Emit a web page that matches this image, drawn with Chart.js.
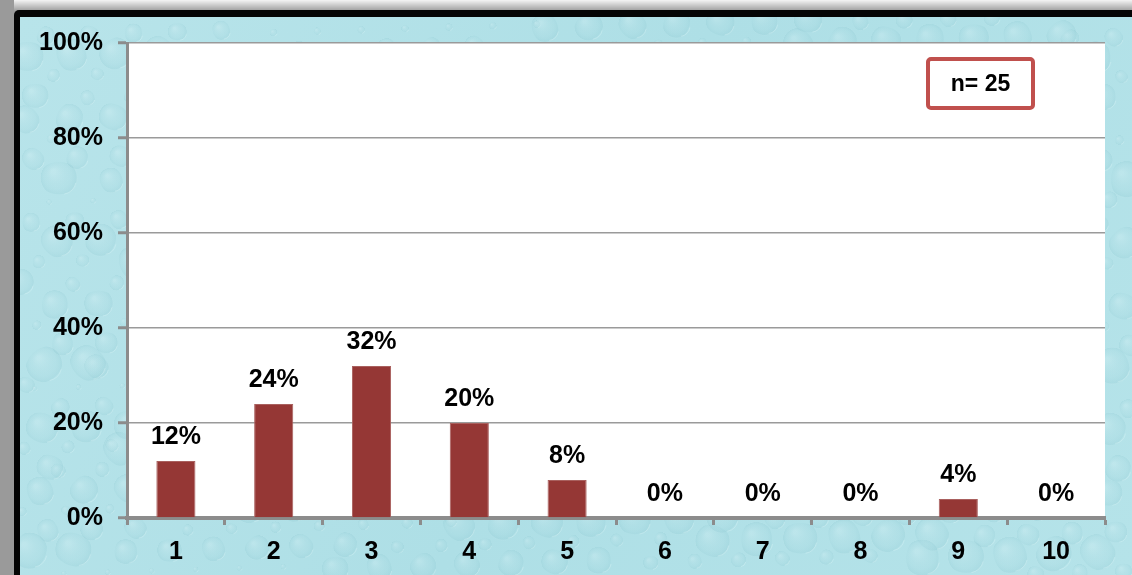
<!DOCTYPE html>
<html>
<head>
<meta charset="utf-8">
<title>Distribution</title>
<script src="https://cdn.jsdelivr.net/npm/chart.js@4/dist/chart.umd.min.js"></script>
<style>
  html, body { margin: 0; padding: 0; background: #ffffff; }
  #wrap { width: 1132px; height: 575px; }
</style>
</head>
<body>
<div id="wrap"><canvas id="c" width="1132" height="575"></canvas></div>
<script>
// Categories and share of responses (percent)
const categories = ['1', '2', '3', '4', '5', '6', '7', '8', '9', '10'];
const shares = [12, 24, 32, 20, 8, 0, 0, 0, 4, 0];
const yTicks = [0, 20, 40, 60, 80, 100];
const sampleLabel = 'n= 25';

const FONT = '"Liberation Sans", Arial, Helvetica, sans-serif';

// Frame, border and water-drop backdrop behind the plot
const backdrop = {
  id: 'backdrop',
  beforeDraw(chart) {
    const { ctx, width, height, chartArea: a } = chart;
    ctx.save();
    // grey surround
    const g = ctx.createLinearGradient(0, 0, 0, 11);
    g.addColorStop(0, '#f4f4f4');
    g.addColorStop(1, '#9c9c9c');
    ctx.fillStyle = '#9a9a9a';
    ctx.fillRect(0, 0, width, height);
    ctx.fillStyle = g;
    ctx.fillRect(14, 0, width - 14, 11);
    // black frame
    ctx.fillStyle = '#050505';
    ctx.beginPath();
    ctx.roundRect(14, 10, width, height, 5);
    ctx.fill();
    // textured panel
    const px = 20, py = 17;
    ctx.beginPath();
    ctx.rect(px, py, width - px, height - py);
    ctx.clip();
    const bg = ctx.createLinearGradient(px, py, width, height);
    bg.addColorStop(0, '#b8e4ea');
    bg.addColorStop(0.5, '#aedfe6');
    bg.addColorStop(1, '#b5e3e9');
    ctx.fillStyle = bg;
    ctx.fillRect(px, py, width - px, height - py);
    // soft droplets laid out on a low-discrepancy sequence
    for (let i = 1; i < 700; i++) {
      const x = px + ((i * 0.6180339) % 1) * (width - px);
      const y = py + ((i * 0.7548776) % 1) * (height - py);
      const r = 3 + ((i * 37) % 17);
      const shade = ctx.createRadialGradient(x - r * 0.3, y - r * 0.35, r * 0.1, x, y, r);
      shade.addColorStop(0, 'rgba(225,245,248,0.22)');
      shade.addColorStop(0.65, 'rgba(160,210,218,0.12)');
      shade.addColorStop(0.92, 'rgba(120,185,196,0.16)');
      shade.addColorStop(1, 'rgba(255,255,255,0.0)');
      ctx.fillStyle = shade;
      ctx.beginPath();
      ctx.ellipse(x, y, r * 1.1, r * 0.85, ((i * 13) % 7) * 0.4, 0, Math.PI * 2);
      ctx.fill();
      ctx.strokeStyle = 'rgba(235,250,252,0.28)';
      ctx.lineWidth = 1;
      ctx.beginPath();
      ctx.arc(x + r * 0.15, y + r * 0.1, r * 0.75, 0.2, 1.4);
      ctx.stroke();
    }
    ctx.restore();
    // white plot area
    ctx.save();
    ctx.fillStyle = '#ffffff';
    ctx.fillRect(a.left, a.top, a.right - a.left, a.bottom - a.top);
    ctx.restore();
  }
};

// Value labels above each bar and the sample-size box
const annotations = {
  id: 'annotations',
  afterDatasetsDraw(chart) {
    const { ctx } = chart;
    const meta = chart.getDatasetMeta(0);
    ctx.save();
    ctx.font = 'bold 25px ' + FONT;
    ctx.fillStyle = '#000000';
    ctx.textAlign = 'center';
    ctx.textBaseline = 'alphabetic';
    meta.data.forEach((bar, i) => {
      ctx.fillText(shares[i] + '%', bar.x, bar.y - 17);
    });
    // sample size box
    const bx = 926, by = 57, bw = 109, bh = 53;
    ctx.fillStyle = '#ffffff';
    ctx.strokeStyle = '#c0504d';
    ctx.lineWidth = 4;
    ctx.beginPath();
    ctx.roundRect(bx + 2, by + 2, bw - 4, bh - 4, 3);
    ctx.fill();
    ctx.stroke();
    ctx.fillStyle = '#000000';
    ctx.font = 'bold 23px ' + FONT;
    ctx.textBaseline = 'middle';
    ctx.fillText(sampleLabel, bx + bw / 2, by + bh / 2 + 1);
    ctx.restore();
  }
};

new Chart(document.getElementById('c'), {
  type: 'bar',
  data: {
    labels: categories,
    datasets: [{
      data: shares,
      backgroundColor: '#953735',
      borderColor: '#a9605e',
      borderWidth: 1,
      categoryPercentage: 1.0,
      barPercentage: 0.4
    }]
  },
  options: {
    responsive: false,
    animation: false,
    devicePixelRatio: 1,
    layout: { padding: { top: 43, right: 27, left: 20, bottom: 0 } },
    plugins: {
      legend: { display: false },
      tooltip: { enabled: false }
    },
    scales: {
      x: {
        afterFit(scale) { scale.height = 57; },
        grid: {
          display: true,
          offset: true,
          drawOnChartArea: false,
          drawTicks: true,
          tickLength: 7,
          tickWidth: 3,
          tickColor: '#8c8c8c',
          color: '#8c8c8c'
        },
        border: { display: true, color: '#8c8c8c', width: 4 },
        ticks: {
          color: '#000000',
          padding: 12,
          font: { family: FONT, size: 25, weight: 'bold' }
        }
      },
      y: {
        min: 0,
        max: 100,
        afterFit(scale) { scale.width = 107; },
        afterBuildTicks(scale) { scale.ticks = yTicks.map(v => ({ value: v })); },
        grid: {
          color: '#9a9a9a',
          lineWidth: 1.5,
          drawTicks: true,
          tickLength: 9,
          tickWidth: 3,
          tickColor: '#8c8c8c'
        },
        border: { display: true, color: '#8c8c8c', width: 3 },
        ticks: {
          color: '#000000',
          padding: 15,
          callback: v => v + '%',
          font: { family: FONT, size: 25, weight: 'bold' }
        }
      }
    }
  },
  plugins: [backdrop, annotations]
});
</script>
</body>
</html>
